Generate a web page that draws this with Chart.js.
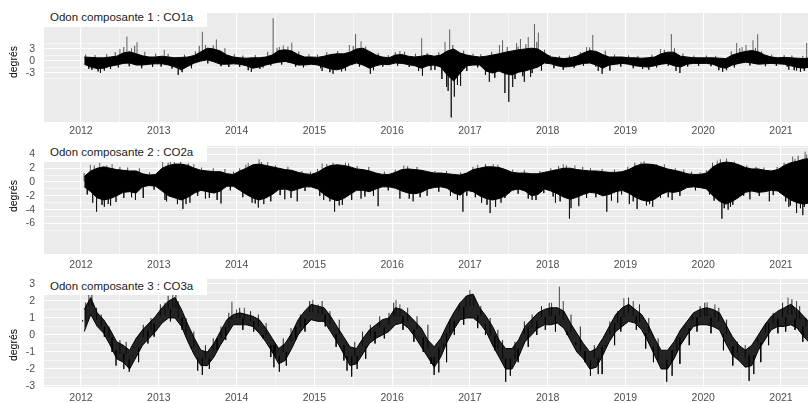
<!DOCTYPE html>
<html>
<head>
<meta charset="utf-8">
<script src="https://cdn.jsdelivr.net/npm/chart.js@4/dist/chart.umd.min.js"></script>
<style>
  html, body { margin: 0; padding: 0; background: #fff; }
  #fig { position: relative; width: 808px; height: 403px; overflow: hidden;
         font-family: "Liberation Sans", Arial, sans-serif; }
  #fig canvas { position: absolute; left: 0; }
  .strip { position: absolute; left: 44px; width: 163px; background: #fff; }
  .strip span { position: absolute; left: 6px; font-size: 11.5px; line-height: 14px;
                color: #1a1a1a; white-space: nowrap; }
  .ytitle { position: absolute; font-size: 10.5px; line-height: 12px; color: #000;
            white-space: nowrap; transform: translate(-50%, -50%) rotate(-90deg); }
</style>
</head>
<body>
<div id="fig">
  <canvas id="p1" width="808" height="137" style="top:0px"></canvas>
  <canvas id="p2" width="808" height="135" style="top:137px"></canvas>
  <canvas id="p3" width="808" height="131" style="top:272px"></canvas>

  <div class="strip" style="top:5px;height:22px"><span style="top:5px">Odon composante 1 : CO1a</span></div>
  <div class="strip" style="top:138px;height:24px"><span style="top:7px">Odon composante 2 : CO2a</span></div>
  <div class="strip" style="top:273px;height:22px"><span style="top:6px">Odon composante 3 : CO3a</span></div>

  <div class="ytitle" style="left:12.5px;top:62px">degrés</div>
  <div class="ytitle" style="left:12.5px;top:196px">degrés</div>
  <div class="ytitle" style="left:12.5px;top:345px">degrés</div>
</div>

<script>
// Série journalière résumée mois par mois (janvier 2012 → mai 2021) :
// bas / haut = enveloppe du bruit dans le mois ; pics / petits = excursions isolées [année, degrés].
const DEBUT = 2012;
const annees = [2012, 2013, 2014, 2015, 2016, 2017, 2018, 2019, 2020, 2021];

// --- Composante 1 : CO1a ---
const co1Haut = [
  1.0, 0.9, 0.8, 0.8, 1.0, 1.2, 2.0, 2.3, 1.8, 1.3, 1.0, 1.0,
  1.2, 1.0, 0.8, 0.9, 1.0, 1.4, 2.3, 3.2, 3.0, 2.5, 1.5, 1.0,
  0.8, 0.7, 0.8, 0.8, 1.0, 1.5, 2.6, 2.8, 2.5, 1.6, 1.0, 1.0,
  0.9, 1.2, 1.6, 1.8, 1.8, 2.2, 3.0, 3.2, 2.4, 1.5, 1.0, 0.8,
  1.5, 1.6, 1.2, 1.0, 1.2, 1.5, 1.2, 1.5, 2.5, 3.0, 2.0, 1.5,
  1.2, 1.0, 1.2, 1.5, 1.8, 2.2, 2.5, 2.8, 3.0, 3.2, 3.0, 2.0,
  1.0, 0.8, 0.6, 0.8, 1.2, 2.0, 2.6, 2.4, 1.6, 1.0, 1.0, 1.0,
  0.8, 0.8, 0.7, 0.8, 1.0, 1.8, 2.2, 2.2, 1.2, 1.0, 0.8, 0.8,
  0.8, 0.8, 0.7, 0.6, 1.5, 2.0, 2.4, 2.6, 2.3, 1.5, 1.0, 0.8,
  0.9, 0.8, 0.7, 0.6, 0.8
];
const co1Bas = [
  -0.8, -1.5, -1.9, -1.8, -1.3, -1.0, -0.6, -0.5, -1.0, -1.0, -0.8, -0.7,
  -0.7, -1.0, -1.5, -2.2, -1.3, -0.5, 0.0, 0.3, -0.2, -0.8, -0.8, -0.7,
  -0.8, -1.2, -1.8, -1.5, -1.0, -0.6, -0.3, -0.1, -0.5, -1.0, -1.0, -0.8,
  -1.0, -1.5, -2.0, -2.2, -1.8, -1.0, -0.5, -1.0, -1.8, -1.2, -0.8, -0.9,
  -0.5, -0.6, -0.9, -1.2, -1.8, -1.2, -1.0, -1.5, -3.5, -5.0, -3.0, -1.2,
  -1.0, -1.0, -2.5, -3.0, -2.5, -3.2, -3.5, -2.8, -2.5, -2.0, -1.5, -0.5,
  -0.7, -1.2, -1.5, -1.4, -1.0, -0.6, -0.5, -1.0, -1.8, -1.0, -0.8, -0.6,
  -0.8, -1.2, -1.4, -1.5, -1.2, -0.8, -0.6, -1.2, -1.5, -0.8, -0.6, -0.6,
  -0.6, -0.8, -1.5, -1.8, -1.0, -0.6, -0.3, -0.5, -0.8, -0.7, -0.6, -0.7,
  -0.8, -1.2, -1.6, -1.8, -1.5
];
const co1Pics = [
  [2012.1, -2.0], [2012.25, -3.0], [2012.3, -2.4], [2012.5, 3.0], [2012.59, 6.1],
  [2012.65, 3.2], [2012.72, 4.7], [2013.07, 2.8], [2013.25, -3.5], [2013.56, 7.3],
  [2013.6, 4.0], [2013.74, 5.4], [2014.19, -2.7], [2014.3, -2.0], [2014.47, 10.7],
  [2014.55, 3.5], [2014.6, 3.9], [2014.71, 4.6], [2015.1, -2.5], [2015.24, -3.2],
  [2015.35, -2.6], [2015.45, 4.0], [2015.53, 6.75], [2015.6, 4.9], [2015.72, -3.2],
  [2016.1, 2.5], [2016.38, 5.7], [2016.39, -3.7], [2016.5, -2.3], [2016.68, 4.8],
  [2016.7, -6.5], [2016.72, -7.5], [2016.74, 7.9], [2016.76, -14.1], [2016.8, -8.9],
  [2016.88, -6.2], [2017.25, -5.2], [2017.38, 4.0], [2017.42, 5.2], [2017.45, -8.0],
  [2017.5, -10.2], [2017.55, -6.5], [2017.6, 4.5], [2017.65, 5.5], [2017.7, -5.2],
  [2017.75, 6.0], [2017.78, -4.0], [2017.83, 9.25], [2017.88, 7.1], [2018.5, 3.5],
  [2018.58, 6.5], [2018.65, -2.5], [2018.7, -3.2], [2019.3, -2.2], [2019.45, 3.0],
  [2019.59, 6.75], [2019.65, -2.5], [2019.7, -3.0], [2020.25, -2.7], [2020.3, -2.3],
  [2020.43, 4.5], [2020.5, 3.5], [2020.55, 4.0], [2020.64, 5.2], [2020.7, 6.7],
  [2021.1, -2.2], [2021.2, -2.4], [2021.25, -2.7], [2021.33, 4.5]
];
const co1Petits = [
  [2012.06, 1.6], [2012.14, -2.2], [2012.18, 1.5], [2012.22, -2.6], [2012.33, 1.7], [2012.38, -2.0],
  [2012.44, 2.2], [2012.48, -1.6], [2012.55, 3.5], [2012.62, -1.3], [2012.69, 3.8], [2012.78, -1.8],
  [2012.82, 2.3], [2012.92, -1.5], [2012.96, 1.8],
  [2013.03, -1.4], [2013.12, 1.8], [2013.17, -1.9], [2013.3, -2.8], [2013.33, 1.6], [2013.42, -1.8],
  [2013.47, 2.4], [2013.52, 3.8], [2013.63, -0.6], [2013.7, 3.9], [2013.8, -1.3], [2013.85, 3.2],
  [2013.9, -1.5], [2013.97, 1.7],
  [2014.04, -1.5], [2014.08, 1.4], [2014.15, -2.3], [2014.24, 1.5], [2014.34, -1.6], [2014.4, 2.3],
  [2014.44, -1.1], [2014.52, 3.3], [2014.58, -0.9], [2014.66, 3.6], [2014.76, -1.4], [2014.8, 2.4],
  [2014.86, -1.6], [2014.93, 1.7],
  [2015.04, 1.6], [2015.08, -1.8], [2015.16, 2.2], [2015.2, -2.8], [2015.3, 2.5], [2015.4, -2.4],
  [2015.5, 3.8], [2015.58, -1.4], [2015.66, 3.6], [2015.76, -2.3], [2015.82, 2.0], [2015.88, -1.4],
  [2015.95, 1.5],
  [2016.04, 2.2], [2016.07, -1.2], [2016.16, 2.3], [2016.22, -1.5], [2016.3, 1.8], [2016.34, -2.5],
  [2016.45, 2.0], [2016.55, -2.2], [2016.6, 2.2], [2016.64, -4.5], [2016.78, 4.0], [2016.84, -6.0],
  [2016.92, 2.6], [2016.96, -2.5],
  [2017.04, 1.8], [2017.1, -1.6], [2017.14, 1.7], [2017.2, -3.5], [2017.28, 2.3], [2017.32, -4.2],
  [2017.48, 3.5], [2017.58, -4.5], [2017.62, 3.6], [2017.68, -3.8], [2017.72, 4.2], [2017.8, -3.0],
  [2017.86, 4.8], [2017.92, -2.4], [2017.96, 2.8],
  [2018.03, 1.5], [2018.08, -1.8], [2018.15, 1.3], [2018.2, -2.2], [2018.28, 1.4], [2018.34, -1.7],
  [2018.42, 2.2], [2018.46, -1.2], [2018.54, 3.4], [2018.62, -1.4], [2018.74, 2.6], [2018.8, -2.4],
  [2018.86, 1.6], [2018.94, -1.4],
  [2019.04, 1.4], [2019.1, -1.8], [2019.16, 1.3], [2019.22, -2.0], [2019.34, 1.6], [2019.4, -1.6],
  [2019.5, 2.8], [2019.55, -1.2], [2019.63, 3.2], [2019.74, 1.9], [2019.8, -1.4], [2019.88, 1.4],
  [2019.94, -1.2],
  [2020.04, 1.4], [2020.1, -1.3], [2020.16, 1.3], [2020.2, -2.3], [2020.36, 2.4], [2020.4, -1.6],
  [2020.47, 3.2], [2020.6, -1.1], [2020.67, 3.3], [2020.75, 2.4], [2020.8, -1.3], [2020.88, 1.6],
  [2020.94, -1.2],
  [2021.04, 1.5], [2021.08, -1.4], [2021.14, 1.4], [2021.17, -2.3], [2021.28, 1.3], [2021.3, -2.5]
];
const co1Graduations = [-3, 0, 3];

// --- Composante 2 : CO2a ---
const co2Haut = [
  0.8, 1.6, 2.0, 2.2, 2.0, 1.8, 1.7, 1.6, 1.6, 1.2, 1.0, 1.1,
  2.0, 2.4, 2.6, 2.6, 2.4, 2.0, 1.7, 1.6, 1.5, 1.5, 1.2, 1.1,
  1.6, 2.0, 2.5, 2.6, 2.4, 2.2, 2.0, 1.8, 1.7, 1.4, 1.2, 1.1,
  1.4, 2.0, 2.4, 2.5, 2.4, 2.2, 1.9, 1.8, 1.6, 1.3, 1.1, 1.1,
  1.4, 1.8, 1.9, 1.8, 1.7, 1.5, 1.3, 1.3, 1.2, 1.1, 1.0, 1.3,
  1.8, 2.0, 2.2, 2.2, 2.1, 1.8, 1.4, 1.3, 1.3, 1.2, 1.2, 1.4,
  1.6, 1.8, 2.0, 2.0, 1.8, 1.7, 1.6, 1.6, 1.5, 1.4, 1.4, 1.5,
  1.8, 2.3, 2.6, 2.6, 2.5, 2.2, 1.9, 1.7, 1.5, 1.2, 1.1, 1.1,
  1.3, 2.2, 2.7, 2.9, 2.8, 2.5, 2.1, 1.9, 1.9, 1.7, 1.6, 1.8,
  2.4, 2.8, 3.0, 3.3, 3.4
];
const co2Bas = [
  -0.7, -1.4, -2.3, -2.6, -2.4, -2.0, -1.5, -1.4, -1.6, -0.7, -0.5, -0.6,
  -1.3, -2.0, -2.3, -2.6, -2.2, -1.6, -1.2, -1.4, -1.6, -1.3, -0.6, -0.6,
  -1.2, -1.8, -2.3, -2.6, -2.3, -1.8, -1.1, -1.0, -1.3, -1.0, -0.7, -0.7,
  -1.0, -1.8, -2.4, -2.7, -2.4, -1.8, -1.2, -1.2, -1.4, -1.0, -0.7, -0.7,
  -0.9, -1.3, -1.6, -1.7, -1.5, -1.0, -0.8, -0.7, -0.9, -1.6, -1.9, -1.2,
  -1.4, -2.0, -2.4, -2.6, -2.4, -2.0, -1.2, -1.0, -1.3, -2.0, -1.8, -1.0,
  -1.3, -1.7, -2.2, -2.5, -2.2, -1.8, -1.5, -1.6, -2.0, -1.8, -1.4, -1.2,
  -1.6, -2.2, -2.6, -2.8, -2.5, -1.8, -1.4, -1.5, -1.3, -0.8, -0.7, -0.8,
  -1.0, -2.0, -2.8, -3.2, -2.8, -2.2, -1.5, -1.3, -1.5, -1.4, -1.2, -1.3,
  -2.0, -2.6, -3.0, -3.2, -3.0
];
const co2Pics = [
  [2012.12, 2.5], [2012.15, -3.0], [2012.2, -4.3], [2012.24, 2.8], [2012.3, -3.6],
  [2012.35, -3.2], [2012.4, 2.6], [2012.45, -2.9], [2012.7, -2.6], [2013.05, 3.1],
  [2013.1, -2.8], [2013.15, 3.0], [2013.2, 3.0], [2013.31, -3.9], [2013.35, -3.2],
  [2013.4, -3.0], [2013.45, 2.6], [2013.6, -2.4], [2013.8, -3.1], [2014.15, 2.8],
  [2014.2, -3.0], [2014.28, -3.7], [2014.29, 3.3], [2014.35, -3.2], [2014.4, 2.9],
  [2014.62, -2.5], [2014.78, -2.8], [2015.1, 2.7], [2015.12, -2.6], [2015.2, -2.8],
  [2015.26, -4.3], [2015.32, -3.4], [2015.4, 2.8], [2015.6, -2.4], [2015.82, -3.5],
  [2016.1, -2.4], [2016.15, 2.4], [2016.27, -2.8], [2016.45, -2.0], [2016.91, -4.3],
  [2017.1, 2.5], [2017.15, -3.0], [2017.26, -4.5], [2017.3, 2.6], [2017.33, -3.6],
  [2017.4, -3.0], [2017.8, -2.6], [2018.1, -3.0], [2018.2, 2.6], [2018.28, -5.3],
  [2018.3, -3.8], [2018.35, 2.4], [2018.4, -3.5], [2018.76, -4.3], [2018.9, -3.0],
  [2019.05, -3.2], [2019.15, -3.9], [2019.2, 2.9], [2019.27, -3.4], [2019.35, -3.6],
  [2019.4, 2.6], [2019.5, 2.6], [2019.6, -2.6], [2020.18, 3.1], [2020.24, -5.3],
  [2020.3, 3.4], [2020.32, -4.0], [2020.35, -3.6], [2020.4, 3.0], [2020.6, -2.5],
  [2020.85, -2.8], [2021.1, -3.6], [2021.15, 3.7], [2021.2, -4.5], [2021.25, -3.8],
  [2021.28, -4.8], [2021.31, 4.4], [2021.33, 4.0]
];
const co2Petits = [
  [2012.04, 1.3], [2012.08, -1.8], [2012.17, 2.4], [2012.27, -3.3], [2012.33, 2.4], [2012.38, -3.4],
  [2012.5, 2.2], [2012.55, -2.3], [2012.6, 2.1], [2012.65, -2.2], [2012.75, 2.0], [2012.8, -2.3],
  [2012.88, 1.4], [2012.94, -1.1],
  [2013.08, -2.6], [2013.12, 2.8], [2013.24, -3.2], [2013.28, 2.9], [2013.38, 2.7], [2013.5, -2.0],
  [2013.55, 2.1], [2013.65, -2.3], [2013.7, 2.0], [2013.75, -2.6], [2013.85, 1.9], [2013.92, -1.2],
  [2013.96, 1.5],
  [2014.04, 2.0], [2014.08, -2.2], [2014.12, 2.5], [2014.24, -3.1], [2014.32, 2.9], [2014.44, -2.8],
  [2014.5, 2.4], [2014.56, -1.9], [2014.66, 2.2], [2014.7, -2.3], [2014.84, 1.6], [2014.88, -1.3],
  [2014.95, 1.5],
  [2015.04, 1.9], [2015.07, -2.0], [2015.16, 2.6], [2015.24, 2.8], [2015.36, -3.3], [2015.44, 2.7],
  [2015.48, -2.6], [2015.55, 2.3], [2015.65, -2.1], [2015.7, 2.2], [2015.76, -2.0], [2015.9, 1.5],
  [2015.95, -1.2],
  [2016.04, 1.8], [2016.2, 2.3], [2016.22, -2.4], [2016.32, 2.2], [2016.36, -2.2], [2016.55, 1.6],
  [2016.6, -1.4], [2016.7, 1.6], [2016.75, -2.0], [2016.84, -2.6], [2016.88, 1.4], [2016.96, -2.0],
  [2017.04, 2.2], [2017.07, -2.2], [2017.2, 2.6], [2017.22, -3.3], [2017.36, 2.5], [2017.45, -2.3],
  [2017.55, 1.8], [2017.62, -1.7], [2017.7, 1.7], [2017.75, -2.4], [2017.85, -2.6], [2017.9, 1.6],
  [2017.95, -1.6],
  [2018.04, 2.0], [2018.07, -2.1], [2018.14, 2.3], [2018.16, -2.8], [2018.24, 2.4], [2018.45, 2.2],
  [2018.5, -2.3], [2018.55, 2.0], [2018.62, -2.2], [2018.7, 1.9], [2018.82, -2.7], [2018.86, 1.8],
  [2018.95, -1.8],
  [2019.03, 2.2], [2019.1, -2.8], [2019.12, 2.8], [2019.24, 3.0], [2019.31, -3.2], [2019.45, -2.3],
  [2019.55, -2.2], [2019.64, 2.0], [2019.7, -2.0], [2019.75, 1.8], [2019.85, 1.5], [2019.9, -1.2],
  [2019.96, 1.4],
  [2020.04, 1.7], [2020.08, -1.8], [2020.12, 2.8], [2020.14, -2.7], [2020.22, 3.3], [2020.27, -3.8],
  [2020.38, -3.3], [2020.45, 2.6], [2020.52, -2.0], [2020.56, 2.4], [2020.68, 2.2], [2020.72, -2.0],
  [2020.78, 2.1], [2020.9, -1.9], [2020.95, 2.2],
  [2021.04, 2.8], [2021.06, -2.8], [2021.12, -3.4], [2021.18, 3.3], [2021.22, 3.8], [2021.3, -3.6]
];
const co2Graduations = [-6, -4, -2, 0, 2, 4];

// --- Composante 3 : CO3a ---
const co3Haut = [
  1.5, 2.2, 1.3, 0.9, 0.3, -0.4, -0.6, -0.9, -0.2, 0.3, 0.7, 1.1,
  1.6, 2.0, 2.2, 1.5, 0.6, -0.2, -0.9, -1.0, -0.5, 0.2, 0.9, 1.2,
  1.3, 1.2, 1.1, 0.9, 0.4, -0.2, -0.8, -0.5, 0.1, 0.9, 1.4, 1.8,
  1.7, 1.6, 1.1, 0.5, -0.1, -0.7, -0.8, -0.2, 0.3, 0.6, 0.9, 1.0,
  1.6, 1.5, 1.2, 0.8, 0.4, -0.3, -0.7, -0.2, 0.6, 1.3, 1.9, 2.3,
  2.4, 1.6, 1.1, 0.5, -0.3, -0.8, -0.8, -0.3, 0.5, 0.9, 1.3, 1.5,
  1.6, 1.6, 1.4, 0.7, 0.1, -0.5, -1.0, -0.8, -0.2, 0.5, 1.2, 1.6,
  1.8, 1.5, 1.2, 0.6, -0.2, -0.9, -0.9, -0.4, 0.3, 0.8, 1.3, 1.5,
  1.6, 1.5, 1.3, 0.6, -0.1, -0.6, -0.9, -0.6, 0.0, 0.6, 1.1, 1.4,
  1.6, 1.8, 1.5, 1.1, 0.7
];
const co3Bas = [
  0.2, 1.2, 0.5, 0.1, -0.6, -1.4, -1.6, -2.0, -1.3, -0.6, -0.2, 0.2,
  0.7, 1.0, 1.0, 0.5, -0.4, -1.2, -1.8, -1.8, -1.3, -0.6, 0.0, 0.6,
  0.6, 0.6, 0.5, 0.1, -0.4, -1.0, -1.7, -1.5, -0.8, 0.0, 0.5, 0.9,
  0.8, 0.8, 0.2, -0.4, -1.1, -1.8, -1.7, -1.1, -0.5, -0.2, 0.0, 0.2,
  0.6, 0.7, 0.4, -0.1, -0.7, -1.3, -1.9, -1.3, -0.4, 0.3, 0.9, 1.0,
  1.0, 0.7, 0.2, -0.6, -1.3, -2.0, -2.0, -1.3, -0.4, 0.0, 0.4, 0.6,
  0.6, 0.7, 0.4, -0.3, -1.0, -1.4, -2.0, -1.9, -1.2, -0.4, 0.2, 0.5,
  0.8, 0.7, 0.3, -0.4, -1.2, -2.0, -2.0, -1.4, -0.6, 0.0, 0.5, 0.6,
  0.6, 0.5, 0.3, -0.5, -1.2, -1.5, -1.9, -1.8, -0.9, -0.3, 0.3, 0.5,
  0.5, 0.6, 0.4, -0.1, -0.5
];
const co3Pics = [
  [2012.1, 2.4], [2012.45, -1.8], [2012.55, -2.0], [2012.62, -2.16], [2013.08, 1.9],
  [2013.18, 2.35], [2013.25, 2.0], [2013.5, -2.1], [2013.56, -2.35], [2013.65, -2.0],
  [2013.94, 1.96], [2014.0, 1.5], [2014.1, 1.6], [2014.48, -1.9], [2014.55, -2.16],
  [2014.98, 2.06], [2015.05, 1.8], [2015.42, -2.1], [2015.48, -2.45], [2015.55, -2.0],
  [2016.05, 2.06], [2016.1, 1.8], [2016.54, -2.35], [2016.6, -2.2], [2016.95, 2.3],
  [2017.0, 2.65], [2017.05, 2.3], [2017.46, -2.75], [2017.52, -2.4], [2018.05, 1.9],
  [2018.15, 2.84], [2018.2, 2.0], [2018.55, -2.4], [2018.65, -2.3], [2018.98, 2.16],
  [2019.1, 2.0], [2019.53, -2.75], [2019.6, -2.4], [2020.05, 1.92], [2020.15, 1.8],
  [2020.59, -2.7], [2020.65, -2.3], [2021.09, 2.2], [2021.2, 2.0]
];
const co3Petits = [
  [2012.02, 0.8], [2012.06, 1.9], [2012.14, 2.5], [2012.2, 1.6], [2012.26, 1.2], [2012.3, -0.1],
  [2012.36, 0.5], [2012.4, -1.0], [2012.5, -0.3], [2012.58, -0.4], [2012.68, -0.7], [2012.74, -1.6],
  [2012.8, 0.6], [2012.86, -0.5], [2012.9, 1.0], [2012.94, -0.1],
  [2013.02, 1.8], [2013.12, 2.3], [2013.15, 0.8], [2013.22, 2.4], [2013.3, 0.3], [2013.35, 1.0],
  [2013.42, -0.8], [2013.45, 0.2], [2013.6, -0.6], [2013.7, -0.2], [2013.75, -0.9], [2013.8, 0.5],
  [2013.86, -0.3], [2013.9, 1.3],
  [2014.04, 1.6], [2014.08, 0.3], [2014.18, 1.4], [2014.22, 0.2], [2014.28, 1.2], [2014.34, -0.2],
  [2014.38, 0.7], [2014.44, -1.3], [2014.5, -0.5], [2014.6, -0.2], [2014.64, -1.8], [2014.7, 0.4],
  [2014.76, -0.3], [2014.82, 1.2], [2014.88, 0.2], [2014.94, 2.0],
  [2015.1, 2.0], [2015.14, 0.5], [2015.2, 1.4], [2015.28, -0.7], [2015.32, 0.9], [2015.38, -1.5],
  [2015.52, -0.4], [2015.62, 0.2], [2015.66, -1.4], [2015.72, 0.6], [2015.78, -0.5], [2015.84, 1.1],
  [2015.9, -0.2], [2015.96, 1.3],
  [2016.02, 1.9], [2016.14, 0.3], [2016.2, 1.6], [2016.28, -0.4], [2016.32, 1.1], [2016.4, -1.0],
  [2016.46, 0.6], [2016.5, -1.7], [2016.66, -0.5], [2016.7, -1.6], [2016.74, 0.9], [2016.8, 0.0],
  [2016.86, 1.8], [2016.92, 0.6],
  [2017.1, 0.4], [2017.14, 1.7], [2017.2, 0.0], [2017.26, 1.0], [2017.32, -0.9], [2017.36, 0.3],
  [2017.42, -0.3], [2017.58, -0.4], [2017.62, -1.6], [2017.7, 0.8], [2017.75, -0.7], [2017.8, 1.2],
  [2017.86, 0.0], [2017.92, 1.7], [2017.97, 0.3],
  [2018.02, 1.9], [2018.1, 0.2], [2018.25, 0.0], [2018.3, 1.2], [2018.36, -0.6], [2018.42, 0.5],
  [2018.48, -1.6], [2018.6, -0.6], [2018.7, -2.3], [2018.74, -0.6], [2018.8, 0.8], [2018.86, -0.6],
  [2018.9, 1.4], [2018.94, 0.2],
  [2019.04, 2.2], [2019.14, 0.3], [2019.18, 1.8], [2019.26, -0.8], [2019.3, 1.0], [2019.36, -1.6],
  [2019.42, -0.2], [2019.66, -0.1], [2019.7, -1.7], [2019.76, 0.5], [2019.82, -0.6], [2019.86, 1.1],
  [2019.92, 0.2], [2019.96, 1.7],
  [2020.02, 1.9], [2020.1, 0.1], [2020.2, 1.6], [2020.26, -0.9], [2020.3, 0.9], [2020.38, -1.8],
  [2020.44, -0.4], [2020.54, -0.6], [2020.7, -0.2], [2020.74, -1.6], [2020.8, 0.7], [2020.84, -0.6],
  [2020.9, 1.3], [2020.96, 0.1],
  [2021.02, 1.9], [2021.06, 0.2], [2021.14, 2.1], [2021.18, 0.3], [2021.24, 1.7], [2021.28, -0.4],
  [2021.32, 1.0]
];
const co3Graduations = [-3, -2, -1, 0, 1, 2, 3];

// ---------------------------------------------------------------------------
const POLICE = { family: '"Liberation Sans", Arial, sans-serif', size: 10.5 };
const X_MIN = 2011.524, X_MAX = 2021.347;

const fondPanneau = {
  id: 'fondPanneau',
  beforeDraw(chart) {
    const { ctx, chartArea: a } = chart;
    ctx.save();
    ctx.fillStyle = '#EBEBEB';
    ctx.fillRect(a.left, a.top, a.right - a.left, a.bottom - a.top);
    ctx.restore();
  }
};

// graduations secondaires : à mi-chemin entre les principales (un pas de plus de chaque côté)
function secondaires(principales) {
  const pas = principales[1] - principales[0];
  const res = [principales[0] - pas / 2];
  principales.forEach(v => res.push(v + pas / 2));
  return res;
}

// excursions : trait vertical partant du milieu de l'enveloppe du mois
function traits(liste, o) {
  const n = o.bas.length, res = [];
  liste.forEach(([x, v]) => {
    const m = Math.min(n - 1, Math.max(0, Math.floor((x - DEBUT) * 12)));
    const base = (o.haut[m] + o.bas[m]) / 2;
    res.push({ x, y: base }, { x, y: v }, { x, y: null });
  });
  return res;
}

function panneau(id, o) {
  const haut = o.haut.map((v, m) => ({ x: DEBUT + (m + 0.5) / 12, y: v }));
  const bas = o.bas.map((v, m) => ({ x: DEBUT + (m + 0.5) / 12, y: v }));

  const yMin = secondaires(o.grad);
  const xTicks = [];
  annees.forEach(a => { xTicks.push(a); xTicks.push(a + 0.5); });

  new Chart(document.getElementById(id), {
    type: 'line',
    data: {
      datasets: [
        { data: haut, borderColor: '#000', borderWidth: 1, pointRadius: 0, tension: 0,
          fill: false, order: 3 },
        { data: bas, borderColor: '#000', borderWidth: 1, pointRadius: 0, tension: 0,
          fill: 0, backgroundColor: o.fond, order: 3 },
        { data: traits(o.petits, o), borderColor: o.trait, borderWidth: 1, pointRadius: 0,
          spanGaps: false, tension: 0, fill: false, order: 2 },
        { data: traits(o.pics, o), borderColor: o.pic, borderWidth: 1, pointRadius: 0,
          spanGaps: false, tension: 0, fill: false, order: 1 }
      ]
    },
    options: {
      responsive: false,
      animation: false,
      devicePixelRatio: 1,
      layout: { padding: { top: o.haut0, right: 0, bottom: 0, left: 0 } },
      plugins: { legend: { display: false }, tooltip: { enabled: false } },
      scales: {
        x: {
          type: 'linear', min: X_MIN, max: X_MAX, offset: false,
          border: { display: false },
          grid: { offset: false, drawTicks: false, color: '#fff',
                  lineWidth: c => (Number.isInteger(c.tick.value) ? 1.1 : 0.55) },
          ticks: { padding: o.xPad, font: POLICE, color: '#4d4d4d', maxRotation: 0, autoSkip: false,
                   callback: v => (Number.isInteger(v) ? String(v) : '') },
          afterBuildTicks: s => { s.ticks = xTicks.map(v => ({ value: v })); },
          afterFit: s => { s.height = o.xH; s.paddingLeft = 0; s.paddingRight = 0; }
        },
        y: {
          type: 'linear', min: o.min, max: o.max,
          border: { display: false },
          grid: { drawTicks: false, color: '#fff',
                  lineWidth: c => (o.grad.includes(c.tick.value) ? 1.1 : 0.55) },
          ticks: { padding: 9, font: POLICE, color: '#4d4d4d', autoSkip: false,
                   callback: v => (o.grad.includes(v) ? String(v) : '') },
          afterBuildTicks: s => {
            s.ticks = o.grad.concat(yMin).filter(v => v > o.min && v < o.max)
              .sort((a, b) => a - b).map(v => ({ value: v }));
          },
          afterFit: s => { s.width = 44; s.paddingTop = 0; s.paddingBottom = 0; }
        }
      }
    },
    plugins: [fondPanneau]
  });
}

panneau('p1', { haut: co1Haut, bas: co1Bas, pics: co1Pics, petits: co1Petits, grad: co1Graduations,
                fond: '#000', trait: 'rgba(0,0,0,0.7)', pic: 'rgba(0,0,0,0.6)',
                min: -15.25, max: 12, haut0: 13, xH: 15, xPad: 3 });
panneau('p2', { haut: co2Haut, bas: co2Bas, pics: co2Pics, petits: co2Petits, grad: co2Graduations,
                fond: '#000', trait: 'rgba(0,0,0,0.7)', pic: 'rgba(0,0,0,0.6)',
                min: -10.43, max: 5.22, haut0: 9, xH: 18, xPad: 5 });
panneau('p3', { haut: co3Haut, bas: co3Bas, pics: co3Pics, petits: co3Petits, grad: co3Graduations,
                fond: 'rgba(0,0,0,0.85)', trait: 'rgba(0,0,0,0.85)', pic: 'rgba(0,0,0,0.7)',
                min: -3.06, max: 3.29, haut0: 7, xH: 16, xPad: 5 });
</script>
</body>
</html>
